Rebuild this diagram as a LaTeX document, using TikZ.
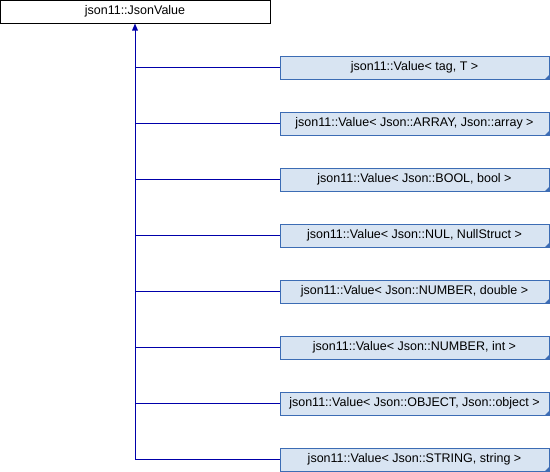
\documentclass[tikz,border=0pt]{standalone}
\usepackage{fontspec}
\setmainfont{Liberation Sans}
\definecolor{edgeblue}{RGB}{0,0,170}
\definecolor{boxfill}{RGB}{216,228,242}
\definecolor{boxline}{RGB}{60,108,180}
\begin{document}
\begin{tikzpicture}[x=1pt,y=-1pt,
  base/.style={draw=black,fill=white,line width=1pt,minimum width=270pt,minimum height=23pt,inner sep=0pt,font=\fontsize{12.5}{14}\selectfont},
  derived/.style={draw=boxline,fill=boxfill,line width=1pt,minimum width=269pt,minimum height=23pt,inner sep=0pt,font=\fontsize{12.5}{14}\selectfont},
  inherit/.style={draw=edgeblue,line width=1pt}]
\useasboundingbox (0,0) rectangle (550,472);
\node[base] (root) at (135,11.5) {json11::JsonValue};
\coordinate (trunk) at (135,460);
\node[derived] (c1) at (414.5,67.5)  {json11::Value< tag, T >};
\node[derived] (c2) at (414.5,123.5) {json11::Value< Json::ARRAY, Json::array >};
\node[derived] (c3) at (414.5,179.5) {json11::Value< Json::BOOL, bool >};
\node[derived] (c4) at (414.5,235.5) {json11::Value< Json::NUL, NullStruct >};
\node[derived] (c5) at (414.5,291.5) {json11::Value< Json::NUMBER, double >};
\node[derived] (c6) at (414.5,347.5) {json11::Value< Json::NUMBER, int >};
\node[derived] (c7) at (414.5,403.5) {json11::Value< Json::OBJECT, Json::object >};
\node[derived] (c8) at (414.5,459.5) {json11::Value< Json::STRING, string >};
% folded corners
\foreach \n in {c1,c2,c3,c4,c5,c6,c7,c8}{
  \fill[boxline] ([xshift=-0.5pt,yshift=0.5pt]\n.south east) -- ++(0,-4) -- ++(-4,4) -- cycle;
}
% shared trunk and branches
\draw[inherit] (root.south) ++(0,6) -- (trunk);
\fill[edgeblue] (root.south) -- ++(-3,7) -- ++(6,0) -- cycle;
\foreach \n in {c1,c2,c3,c4,c5,c6,c7,c8}{
  \draw[inherit] (\n.west) -- (trunk |- \n.west);
}
\end{tikzpicture}
\end{document}
